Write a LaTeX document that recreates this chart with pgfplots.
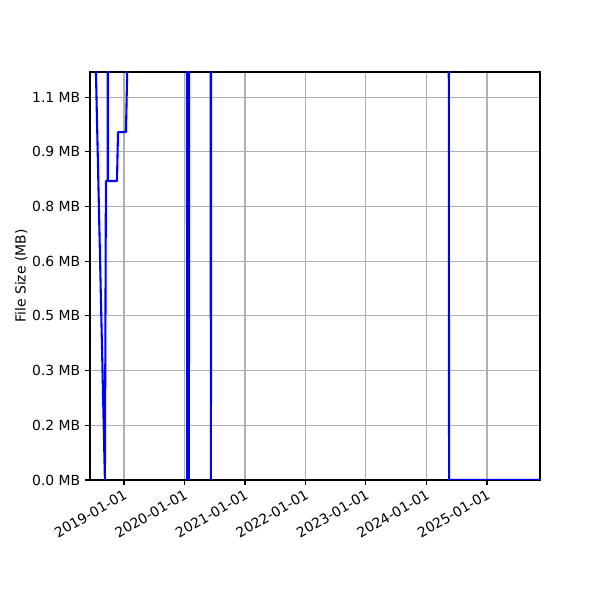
\documentclass[border=0pt]{standalone}
\usepackage{fontspec}
\setmainfont{DejaVu Sans}
\usepackage{pgfplots}
\pgfplotsset{compat=1.18}
\begin{document}
\begin{tikzpicture}
\useasboundingbox (0,0) rectangle (432pt,432pt);
\begin{axis}[
  at={(64.8pt,86.4pt)}, anchor=south west,
  scale only axis, width=324pt, height=293.76pt,
  xmin=-205, xmax=2512, ymin=0, ymax=1.119,
  xtick={0,365,731,1096,1461,1826,2192},
  xticklabels={2019-01-01,2020-01-01,2021-01-01,2022-01-01,2023-01-01,2024-01-01,2025-01-01},
  ytick={0,0.15,0.3,0.45,0.6,0.75,0.9,1.05},
  yticklabels={0.0 MB,0.2 MB,0.3 MB,0.5 MB,0.6 MB,0.8 MB,0.9 MB,1.1 MB},
  tick label style={font=\fontsize{10}{12}\selectfont},
  xticklabel style={rotate=30, anchor=north east, inner sep=2pt},
  tick align=outside, major tick length=3.5pt,
  xtick pos=bottom, ytick pos=left,
  tick style={black, line width=0.8pt},
  grid=major, grid style={color=black!31, line width=0.8pt},
  axis line style={line width=0.8pt},
  ylabel={File Size (MB)},
  every axis y label/.style={at={(axis description cs:-0.153,0.5)}, rotate=90, anchor=center, font=\fontsize{10}{12}\selectfont},
]
\addplot[blue, line width=1.5pt, line join=round] coordinates {
(-200,1.755) (-115,0) (-109,0.82) (-98,0.82) (-97.5,1.3) (-97,0.82)
(-42,0.82) (-36,0.954) (12,0.954) (28,1.3)
(380,1.3) (382,0) (392,0) (394,1.3)
(523,1.3) (525,0) (527,1.3)
(1961,1.3) (1963,0) (2512,0)
};
\end{axis}
\end{tikzpicture}
\end{document}
